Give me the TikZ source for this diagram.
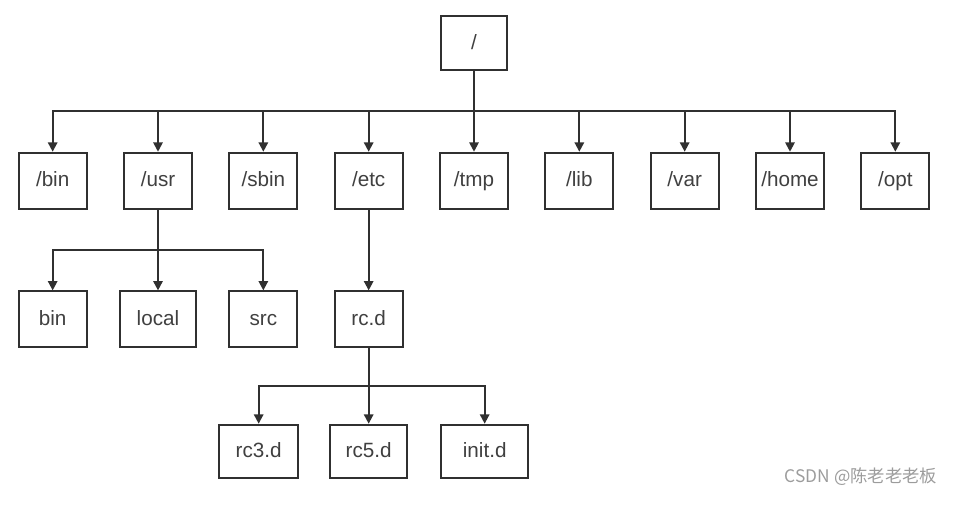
\documentclass[tikz,border=0pt]{standalone}
\usepackage{fontspec}
\setmainfont{Liberation Sans}
\newfontfamily\cjkfont{Noto Sans CJK SC}
\usetikzlibrary{arrows.meta,positioning,calc}
\definecolor{Ink}{HTML}{303030}
\definecolor{Label}{HTML}{404040}
\definecolor{Mark}{HTML}{9C9C9C}
\tikzset{
  dir/.style={draw=Ink,fill=white,line width=1.4pt,minimum width=51pt,minimum height=42pt,inner sep=0pt,outer sep=0pt,text height=11pt,text depth=2pt,font=\fontsize{15.5}{18}\selectfont,text=Label},
  flow/.style={-{Triangle[length=7pt,width=7pt]},draw=Ink,line width=1.4pt,shorten >=.7pt},
  plainline/.style={draw=Ink,line width=1.4pt}
}

\begin{document}
\begin{tikzpicture}[x=0.75pt,y=-0.75pt]
  \useasboundingbox (0,0) rectangle (967,511);
  % top level
  \node[dir,minimum width=49.5pt,minimum height=40.5pt] (root) at (474,43) {/};
  \node[dir,below=62pt of root] (tmp) {/tmp};
  \node[dir,left=28pt of tmp] (etc) {/etc};
  \node[dir,left=28pt of etc] (sbin) {/sbin};
  \node[dir,left=28pt of sbin] (usr) {/usr};
  \node[dir,left=28pt of usr] (bin1) {/bin};
  \node[dir,right=28pt of tmp] (lib) {/lib};
  \node[dir,right=28pt of lib] (var) {/var};
  \node[dir,right=28pt of var] (home) {/home};
  \node[dir,right=28pt of home] (opt) {/opt};
  \coordinate (bus1) at ($(root.south)!.5!(tmp.north)$);
  \draw[flow] (root) -- (tmp);
  \draw[flow] (tmp |- bus1) -| (bin1);
  \draw[flow] (tmp |- bus1) -| (opt);
  \draw[flow] (usr |- bus1) -- (usr);
  \draw[flow] (sbin |- bus1) -- (sbin);
  \draw[flow] (etc |- bus1) -- (etc);
  \draw[flow] (lib |- bus1) -- (lib);
  \draw[flow] (var |- bus1) -- (var);
  \draw[flow] (home |- bus1) -- (home);
  % /usr and /etc
  \node[dir,below=62pt of bin1] (bin2) {bin};
  \node[dir,below=62pt of usr,minimum width=57pt] (local) {local};
  \node[dir,below=62pt of sbin] (src) {src};
  \node[dir,below=62pt of etc] (rcd) {rc.d};
  \coordinate (bus2) at ($(usr.south)!.5!(local.north)$);
  \draw[flow] (usr) -- (local);
  \draw[flow] (local |- bus2) -| (bin2);
  \draw[flow] (local |- bus2) -| (src);
  \draw[flow] (etc) -- (rcd);
  % rc.d
  \node[dir,below=58pt of rcd,minimum width=58pt,minimum height=40pt] (rc5) {rc5.d};
  \node[dir,left=24pt of rc5,minimum width=59pt,minimum height=40pt] (rc3) {rc3.d};
  \node[dir,right=25.5pt of rc5,minimum width=65pt,minimum height=40pt] (init) {init.d};
  \coordinate (bus3) at ($(rcd.south)!.5!(rc5.north)$);
  \draw[flow] (rcd) -- (rc5);
  \draw[flow] (rc5 |- bus3) -| (rc3);
  \draw[flow] (rc5 |- bus3) -| (init);
  \node[font=\cjkfont\fontsize{13}{15}\selectfont,text=Mark,anchor=east] (mark) at (942,477) {CSDN @陈老老老板};
\end{tikzpicture}
\end{document}
